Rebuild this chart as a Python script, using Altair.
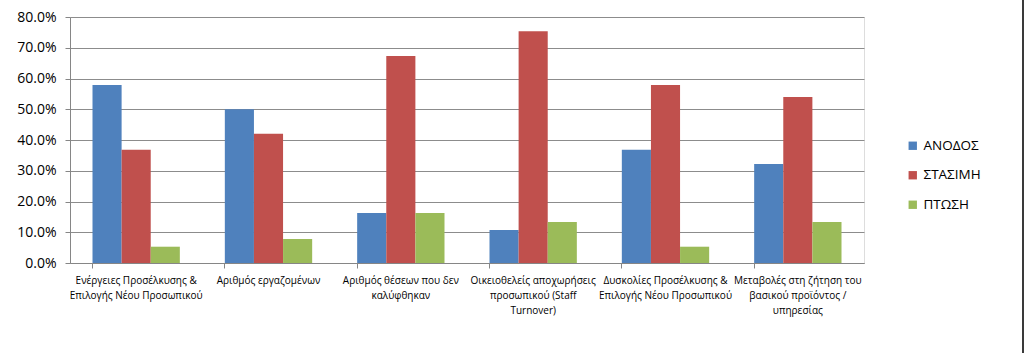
import altair as alt
import pandas as pd

categories = [
    "Ενέργειες Προσέλκυσης &\nΕπιλογής Νέου Προσωπικού",
    "Αριθμός εργαζομένων",
    "Αριθμός θέσεων που δεν\nκαλύφθηκαν",
    "Οικειοθελείς αποχωρήσεις\nπροσωπικού (Staff\nTurnover)",
    "Δυσκολίες Προσέλκυσης &\nΕπιλογής Νέου Προσωπικού",
    "Μεταβολές στη ζήτηση του\nβασικού προϊόντος /\nυπηρεσίας",
]
series = ["ΑΝΟΔΟΣ", "ΣΤΑΣΙΜΗ", "ΠΤΩΣΗ"]
anodos = [0.579, 0.500, 0.163, 0.107, 0.368, 0.322]
stasimi = [0.368, 0.420, 0.673, 0.754, 0.579, 0.540]
ptosi = [0.053, 0.078, 0.163, 0.133, 0.053, 0.133]
colors = ["#4F81BD", "#C0504D", "#9BBB59"]

rows = []
for i, c in enumerate(categories):
    for s, vals in zip(series, [anodos, stasimi, ptosi]):
        rows.append({"cat": c, "series": s, "value": vals[i]})
df = pd.DataFrame(rows)

font = "Open Sans"

bars = alt.Chart(df).mark_bar().encode(
    x=alt.X("cat:N", sort=categories, title=None,
            scale=alt.Scale(paddingInner=0.34, paddingOuter=0.17),
            axis=alt.Axis(labelAngle=0, labelExpr="split(datum.label, '\\n')",
                          labelFontSize=10, labelFont=font, labelColor="#000000",
                          labelLineHeight=15, labelPadding=7,
                          bandPosition=0, tickSize=5, tickColor="#868686",
                          domainColor="#868686", labelLimit=200)),
    xOffset=alt.XOffset("series:N", sort=series),
    y=alt.Y("value:Q", title=None,
            scale=alt.Scale(domain=[0, 0.8]),
            axis=alt.Axis(format=".1%", values=[0, 0.1, 0.2, 0.3, 0.4, 0.5, 0.6, 0.7, 0.8],
                          labelFontSize=14, labelFont=font, labelColor="#000000",
                          tickSize=5, tickColor="#868686", domainColor="#868686",
                          gridColor="#8C8C8C", labelPadding=9)),
    color=alt.Color("series:N", sort=series,
                    scale=alt.Scale(domain=series, range=colors),
                    legend=alt.Legend(title=None, orient="none", legendX=836, legendY=122,
                                      symbolType="square", symbolSize=70,
                                      symbolStrokeWidth=0,
                                      labelFontSize=13.5, labelFont=font, labelColor="#000000",
                                      rowPadding=14.5)),
)

border = alt.Chart(pd.DataFrame({"a": [0]})).mark_rule(color="#3A3A3A", strokeWidth=2).encode(
    x=alt.value(953), y=alt.value(-17), y2=alt.value(336)
)

chart = alt.layer(bars, border).properties(
    width=794, height=246,
    autosize=alt.AutoSizeParams(type="none"),
    padding={"left": 70, "top": 17, "right": 160, "bottom": 90},
).configure_view(stroke=None).configure(background="white")

chart.save("out.html", embed_options={"renderer": "svg", "actions": False})
